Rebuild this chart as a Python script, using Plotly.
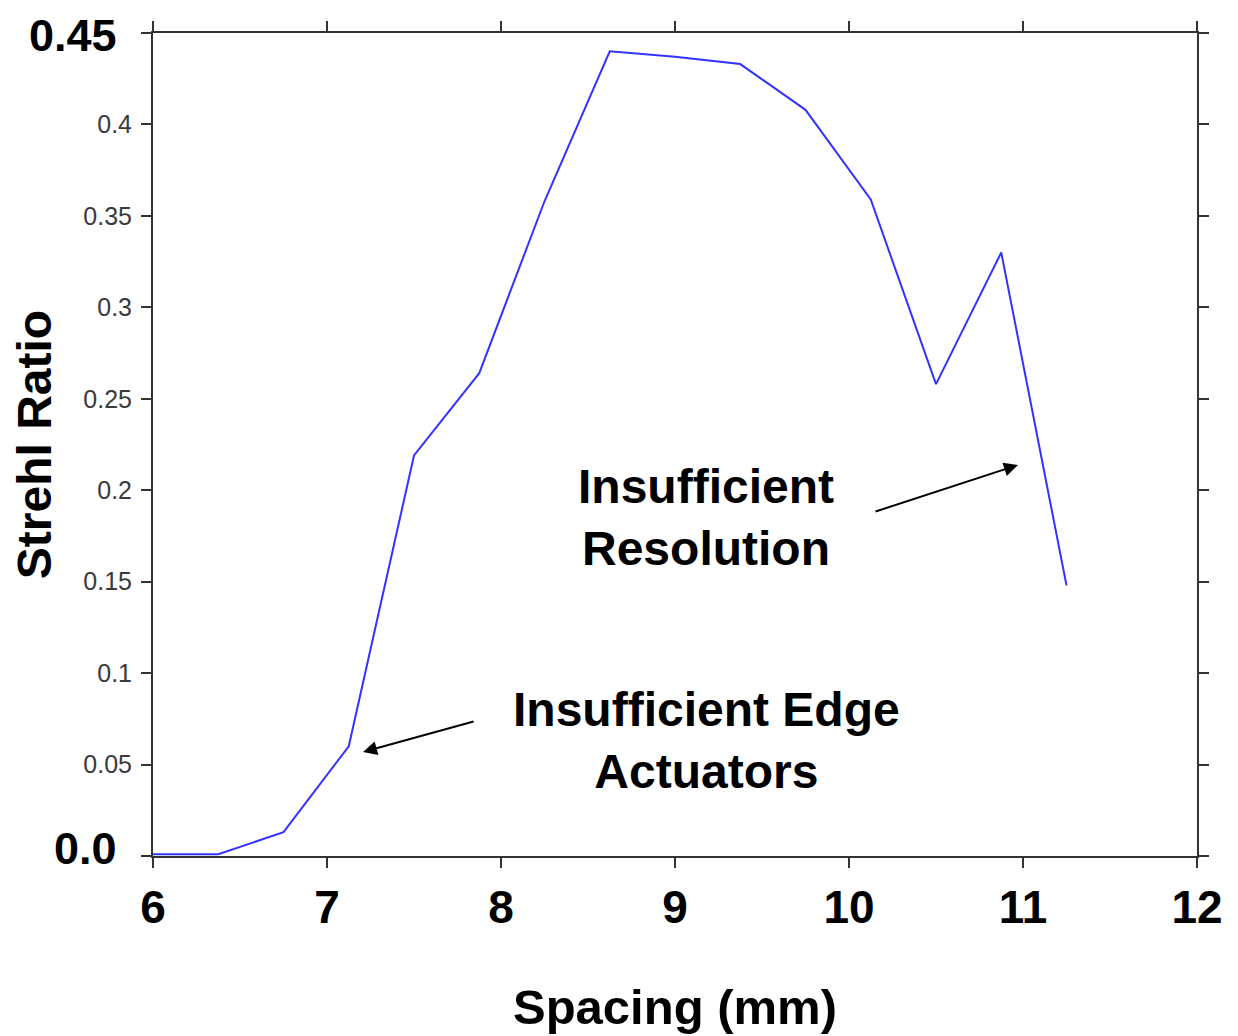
import plotly.graph_objects as go

spacing_mm = [6.0, 6.375, 6.75, 7.125, 7.5, 7.875, 8.25, 8.625, 9.0, 9.375, 9.75, 10.125, 10.5, 10.875, 11.25]
strehl = [0.001, 0.001, 0.013, 0.060, 0.219, 0.264, 0.358, 0.440, 0.437, 0.433, 0.408, 0.359, 0.258, 0.330, 0.148]

x_ticks = [6, 7, 8, 9, 10, 11, 12]
y_ticks = [0, 0.05, 0.1, 0.15, 0.2, 0.25, 0.3, 0.35, 0.4, 0.45]
y_ticklabels = ["", "0.05", "0.1", "0.15", "0.2", "0.25", "0.3", "0.35", "0.4", ""]
y_big_labels = [(0.0, "0.0"), (0.45, "0.45")]

FONT = "Liberation Sans, Arial, sans-serif"

fig = go.Figure()
fig.add_trace(go.Scatter(x=spacing_mm, y=strehl, mode="lines",
                         line=dict(color="#3333ff", width=2), showlegend=False))

axis_common = dict(showline=True, linecolor="#333333", linewidth=2, mirror="ticks",
                   ticks="outside", ticklen=10, tickwidth=2, tickcolor="#333333",
                   showgrid=False, zeroline=False)

fig.update_xaxes(range=[6, 12], tickvals=x_ticks, ticktext=[str(v) for v in x_ticks],
                 tickfont=dict(family=FONT, size=46, color="black", weight="bold"),
                 title=dict(text="<b>Spacing (mm)</b>", font=dict(family=FONT, size=49, color="black"),
                            standoff=57),
                 **axis_common)
fig.update_yaxes(range=[0, 0.45], tickvals=y_ticks, ticktext=y_ticklabels,
                 tickfont=dict(family=FONT, size=25, color="#3a3a3a"), ticklabelstandoff=4,
                 title=dict(text="<b>Strehl Ratio</b>", font=dict(family=FONT, size=48, color="black"),
                            standoff=18),
                 **axis_common)

for val, txt in y_big_labels:
    fig.add_annotation(x=0, xref="paper", xanchor="right", xshift=-35, y=val, yref="y",
                       yanchor="middle", yshift=(-2 if val == 0.45 else 8), text=f"<b>{txt}</b>",
                       showarrow=False, borderpad=0, font=dict(family=FONT, size=45, color="black"))

fig.add_annotation(x=9.18, y=0.1853, xref="x", yref="y", text="<b>Insufficient<br>Resolution</b>",
                   showarrow=False, font=dict(family=FONT, size=48, color="black"), align="center")
fig.add_annotation(x=9.18, y=0.0629, xref="x", yref="y", text="<b>Insufficient Edge<br>Actuators</b>",
                   showarrow=False, font=dict(family=FONT, size=48, color="black"), align="center")

fig.add_annotation(x=10.971, y=0.2138, ax=10.144, ay=0.1881, xref="x", yref="y", axref="x", ayref="y",
                   text="", showarrow=True, arrowhead=2, arrowsize=1.4, arrowwidth=2, arrowcolor="black")
fig.add_annotation(x=7.207, y=0.0569, ax=7.851, ay=0.0738, xref="x", yref="y", axref="x", ayref="y",
                   text="", showarrow=True, arrowhead=2, arrowsize=1.4, arrowwidth=2, arrowcolor="black")

fig.update_layout(width=1238, height=1036, margin=dict(l=145, r=49, t=25, b=188, autoexpand=False),
                  plot_bgcolor="white", paper_bgcolor="white")

fig.write_html("out.html")
